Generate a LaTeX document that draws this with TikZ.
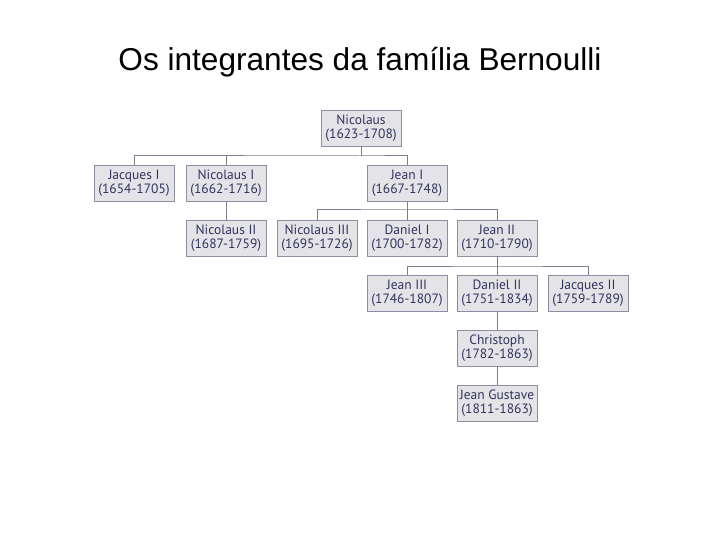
\documentclass[tikz,border=0pt]{standalone}
\usepackage{fontspec}
\setmainfont{Liberation Sans}
\newfontfamily\boxfont{PT Sans}
\usepackage{tikz}
\usetikzlibrary{shadows, positioning, calc}

\begin{document}
\begin{tikzpicture}[x=1pt, y=-1pt]
% --- cores ---
\definecolor{caixa}{HTML}{E4E4E8}
\definecolor{borda}{HTML}{8E8EA2}
\definecolor{texto}{HTML}{33335E}
\definecolor{linha}{HTML}{7E7E90}
\tikzset{
  membro/.style={draw=borda, fill=caixa, line width=0.9pt, minimum width=80pt, minimum height=36pt,
    inner sep=1pt, align=center, text=texto, font=\boxfont\fontsize{13.5}{14}\selectfont,
    drop shadow={shadow xshift=1.2pt, shadow yshift=-1.2pt, opacity=0.45, fill=borda}},
  ligacao/.style={draw=linha, line width=1pt}
}
\useasboundingbox (0,0) rectangle (720,540);

% titulo
\node[font=\fontsize{31.6}{36}\selectfont] (titulo) at (360,62) {Os integrantes da família Bernoulli};

% LAYER 1: geracoes
\node[membro] (nic) at (361,128) {Nicolaus\\(1623-1708)};

\node[membro] (jacI) at (134,183) {Jacques I\\(1654-1705)};
\node[membro] (nicI) at (226,183) {Nicolaus I\\(1662-1716)};
\node[membro] (jeanI) at (407,183) {Jean I\\(1667-1748)};

\node[membro] (nicII) at (226,238) {Nicolaus II\\(1687-1759)};
\node[membro] (nicIII) at (317,238) {Nicolaus III\\(1695-1726)};
\node[membro] (danI) at (407,238) {Daniel I\\(1700-1782)};
\node[membro] (jeanII) at (497,238) {Jean II\\(1710-1790)};

\node[membro] (jeanIII) at (407,293) {Jean III\\(1746-1807)};
\node[membro] (danII) at (497,293) {Daniel II\\(1751-1834)};
\node[membro] (jacII) at (588,293) {Jacques II\\(1759-1789)};

\node[membro] (chr) at (497,348) {Christoph\\(1782-1863)};
\node[membro] (jg) at (497,403) {Jean Gustave\\(1811-1863)};

% LAYER 2: ligacoes
\coordinate (barra1) at (361,156);
\coordinate (barra2) at (407,210);
\coordinate (barra3) at (497,266);

\draw[ligacao] (nic.south) -- (barra1);
\draw[ligacao] (jacI.north) |- (barra1) -| (jeanI.north);
\draw[ligacao] (nicI.north) -- (nicI.north |- barra1);
\draw[ligacao] (nicI.south) -- (nicII.north);

\draw[ligacao] (jeanI.south) -- (barra2);
\draw[ligacao] (nicIII.north) |- (barra2) -| (jeanII.north);
\draw[ligacao] (danI.north) -- (barra2);

\draw[ligacao] (jeanII.south) -- (barra3);
\draw[ligacao] (jeanIII.north) |- (barra3) -| (jacII.north);
\draw[ligacao] (danII.north) -- (barra3);

\draw[ligacao] (danII.south) -- (chr.north);
\draw[ligacao] (chr.south) -- (jg.north);
\end{tikzpicture}
\end{document}
